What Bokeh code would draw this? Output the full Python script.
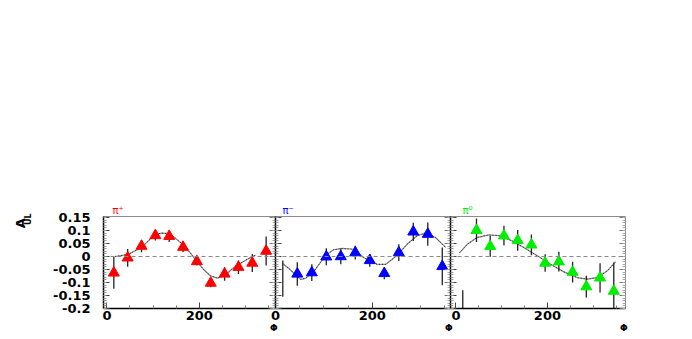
from bokeh.plotting import figure
from bokeh.layouts import row
from bokeh.models import (Range1d, FixedTicker, LinearAxis, Span, CustomLabelingPolicy)
from bokeh.embed import file_html
from bokeh.resources import INLINE

# ---------------- data ----------------
phi_bins = [15, 45, 75, 105, 135, 165, 195, 225, 255, 285, 315, 345]

pip_val = [-0.063, -0.005, 0.040, 0.081, 0.078, 0.036, -0.019, -0.102, -0.067, -0.041, -0.025, 0.021]
pip_err = [0.061, 0.034, 0.024, 0.019, 0.022, 0.019, 0.016, 0.016, 0.026, 0.026, 0.035, 0.056]

pim_val = [-0.085, -0.067, -0.062, -0.001, 0.000, 0.015, -0.015, -0.065, 0.015, 0.095, 0.086, -0.038]
pim_err = [0.070, 0.045, 0.032, 0.033, 0.030, 0.026, 0.024, 0.022, 0.032, 0.035, 0.045, 0.073]
pim_marker = [False, True, True, True, True, True, True, True, True, True, True, True]

pi0_val = [-0.300, 0.101, 0.039, 0.080, 0.062, 0.045, -0.025, -0.020, -0.060, -0.116, -0.082, -0.133]
pi0_err = [0.170, 0.045, 0.040, 0.038, 0.040, 0.040, 0.034, 0.038, 0.040, 0.042, 0.056, 0.110]

fit_pip_phi = [18, 46, 76, 104, 118, 134, 149, 165, 181, 195, 210, 224, 239, 255, 270, 284, 300, 315, 322]
fit_pip_val = [0.0, 0.008, 0.036, 0.085, 0.090, 0.088, 0.070, 0.045, 0.013, -0.019, -0.051, -0.074,
               -0.083, -0.074, -0.050, -0.032, -0.015, 0.0, 0.005]

fit_pim_phi = [14, 30, 42, 52, 62, 79, 103, 120, 138, 161, 182, 210, 228, 252, 272, 293, 310, 331, 352]
fit_pim_val = [-0.026, -0.050, -0.072, -0.088, -0.084, -0.058, 0.003, 0.026, 0.031, 0.028, -0.004,
               -0.030, -0.030, 0.005, 0.047, 0.080, 0.090, 0.073, 0.035]

fit_pi0_phi = [8, 25, 46, 72, 97, 123, 148, 178, 207, 236, 265, 287, 309, 331, 349]
fit_pi0_val = [0.015, 0.047, 0.073, 0.083, 0.080, 0.060, 0.035, 0.003, -0.030, -0.059, -0.081,
               -0.087, -0.081, -0.055, -0.020]

y_ticks = [-0.2, -0.15, -0.1, -0.05, 0, 0.05, 0.1, 0.15]
y_tick_labels = ["-0.2", "-0.15", "-0.1", "-0.05", "0", "0.05", "0.1", "0.15"]
y_minor = [round(-0.2 + 0.01 * i, 2) for i in range(36)]
x_ticks = [0, 200]
x_minor = [50, 100, 150, 250, 300, 350]

panel_names = ["π⁺", "π⁻", "π⁰"]
panel_colors = ["#ff0000", "#0000ff", "#00ee00"]
x_title = "Φ"
y_title_main = "A"
y_title_sub = "UL"

FONT = "DejaVu Sans"
NBSP = "\u00a0"


def hide_labels(ax):
    ax.major_label_policy = CustomLabelingPolicy(code="return []")
    ax.major_label_text_font_size = "0px"
    ax.major_label_standoff = 0


def set_attr(obj, name, val):
    try:
        setattr(obj, name, val)
    except Exception:
        pass


def make_panel(xr, width, bl, br, margin_left, show_ylabels, title, tcolor, toffset):
    p = figure(width=width, height=335, output_backend="svg", toolbar_location=None,
               x_range=Range1d(*xr), y_range=Range1d(-0.2, 0.154),
               min_border_left=bl, min_border_right=br, min_border_top=216,
               min_border_bottom=27, x_axis_type=None, y_axis_type=None, title=title)
    p.margin = (0, 0, 0, margin_left)
    p.background_fill_color = None
    p.border_fill_color = None
    p.outline_line_color = "#8c8c8c"
    p.outline_line_width = 1
    p.xgrid.visible = False
    p.ygrid.visible = False

    p.title.align = "left"
    p.title.offset = toffset
    p.title.standoff = 1
    p.title.text_color = tcolor
    p.title.text_font = FONT
    p.title.text_font_size = "10px"
    p.title.text_font_style = "normal"

    xa = LinearAxis(ticker=FixedTicker(ticks=x_ticks, minor_ticks=x_minor))
    xa.axis_line_color = "black"
    xa.axis_line_width = 1.5
    xa.major_tick_in = 6
    xa.major_tick_out = 0
    xa.minor_tick_in = 3
    xa.minor_tick_out = 0
    xa.major_tick_line_color = "#444444"
    xa.minor_tick_line_color = "#777777"
    xa.major_label_text_font = FONT
    xa.major_label_text_font_style = "bold"
    xa.major_label_text_font_size = "13px"
    xa.major_label_text_color = "black"
    xa.major_label_standoff = 2
    xa.axis_label = x_title + NBSP
    xa.axis_label_text_font = FONT
    xa.axis_label_text_font_style = "bold"
    xa.axis_label_text_font_size = "9px"
    xa.axis_label_text_color = "black"
    xa.axis_label_standoff = 0
    set_attr(xa, "axis_label_align", "end")
    p.add_layout(xa, "below")

    ya = LinearAxis(ticker=FixedTicker(ticks=y_ticks, minor_ticks=y_minor))
    ya.axis_line_color = "black"
    ya.axis_line_width = 1.5
    ya.major_tick_in = 6
    ya.major_tick_out = 0
    ya.minor_tick_in = 3
    ya.minor_tick_out = 0
    ya.major_tick_line_color = "#444444"
    ya.minor_tick_line_color = "#999999"
    if show_ylabels:
        ya.major_label_overrides = {t: l for t, l in zip(y_ticks, y_tick_labels)}
        ya.major_label_text_font = FONT
        ya.major_label_text_font_style = "bold"
        ya.major_label_text_font_size = "13px"
        ya.major_label_text_color = "black"
        ya.major_label_standoff = 13
        ya.axis_label = y_title_sub + NBSP * 2
        ya.axis_label_text_font = FONT
        ya.axis_label_text_font_style = "bold"
        ya.axis_label_text_font_size = "8px"
        ya.axis_label_text_color = "black"
        ya.axis_label_standoff = 17
        set_attr(ya, "axis_label_align", "end")
    else:
        hide_labels(ya)
    p.add_layout(ya, "left")

    if show_ylabels:
        ta = LinearAxis(ticker=FixedTicker(ticks=[]))
        ta.axis_line_color = None
        ta.major_tick_in = 0
        ta.major_tick_out = 0
        ta.minor_tick_in = 0
        ta.minor_tick_out = 0
        ta.major_label_standoff = 0
        ta.axis_label = y_title_main + NBSP * 3
        ta.axis_label_text_font = FONT
        ta.axis_label_text_font_style = "bold"
        ta.axis_label_text_font_size = "13px"
        ta.axis_label_text_color = "black"
        ta.axis_label_standoff = -6
        set_attr(ta, "axis_label_align", "end")
        p.add_layout(ta, "left")

    ra = LinearAxis(ticker=FixedTicker(ticks=y_ticks, minor_ticks=y_minor))
    ra.axis_line_color = None
    ra.major_tick_in = 6
    ra.major_tick_out = 0
    ra.minor_tick_in = 3
    ra.minor_tick_out = 0
    ra.major_tick_line_color = "#777777"
    ra.minor_tick_line_color = "#aaaaaa"
    hide_labels(ra)
    p.add_layout(ra, "right")

    p.add_layout(Span(location=0, dimension="width", line_color="#888888",
                      line_dash="4 3", line_width=1))
    return p


def draw(p, vals, errs, color, fit_phi, fit_val, shown=None):
    lo = [v - e for v, e in zip(vals, errs)]
    hi = [v + e for v, e in zip(vals, errs)]
    p.line(fit_phi, fit_val, line_color="#8a8a8a", line_width=1.2)
    p.line(fit_phi, fit_val, line_color="#222222", line_width=1, line_dash="1 2")
    p.segment(x0=phi_bins, y0=lo, x1=phi_bins, y1=hi, line_color="#222222", line_width=1.3)
    if shown is None:
        shown = [True] * len(vals)
    xs = [x for x, s in zip(phi_bins, shown) if s]
    ys = [v for v, s in zip(vals, shown) if s]
    p.scatter(xs, ys, marker="triangle", size=11, fill_color=color, line_color=color)


p1 = make_panel((-7.4, 365.3), 281, 103, 6, 0, True, panel_names[0], panel_colors[0], 9)
draw(p1, pip_val, pip_err, panel_colors[0], fit_pip_phi, fit_pip_val)

p2 = make_panel((-0.1, 362.0), 195, 10, 10, -16, False, panel_names[1], panel_colors[1], 7)
draw(p2, pim_val, pim_err, panel_colors[1], fit_pim_phi, fit_pim_val, pim_marker)

p3 = make_panel((-11.8, 370.6), 210, 10, 25, -20, False, panel_names[2], panel_colors[2], 12)
draw(p3, pi0_val, pi0_err, panel_colors[2], fit_pi0_phi, fit_pi0_val)

layout = row(p1, p2, p3)
open("out.html", "w").write(file_html(layout, INLINE))
